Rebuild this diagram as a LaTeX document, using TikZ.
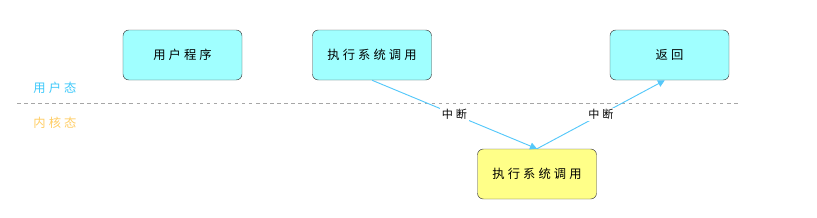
\documentclass[tikz,border=0pt]{standalone}
\usepackage{fontspec}
\setmainfont{Noto Sans CJK SC}[LetterSpace=25]
\definecolor{boxcyan}{RGB}{160, 255, 255}
\definecolor{boxyellow}{RGB}{255, 255, 136}
\definecolor{edgegray}{RGB}{68, 68, 68}
\definecolor{arrowblue}{RGB}{85, 200, 250}
\definecolor{userblue}{RGB}{60, 200, 250}
\definecolor{kernelorange}{RGB}{255, 205, 100}
\usetikzlibrary{arrows.meta, positioning}
\begin{document}
\begin{tikzpicture}[x=0.03cm, y=-0.03cm,
  sbox/.style={draw=edgegray, rounded corners=5pt, minimum width=3.57cm, minimum height=1.5cm, inner sep=0pt, font=\fontsize{10.5}{12}\selectfont},
  flow/.style={-{Triangle[length=6pt, width=6pt]}, arrowblue, thick},
  tag/.style={fill=white, text=black, inner sep=1.5pt, font=\fontsize{9.5}{11}\selectfont}
]
  \useasboundingbox (0,0) rectangle (817,217);
  \node[sbox, fill=boxcyan] (prog) at (182.5, 55) {用户程序};
  \node[sbox, fill=boxcyan] (call) at (372, 55) {执行系统调用};
  \node[sbox, fill=boxcyan] (ret) at (669.5, 55) {返回};
  \node[sbox, fill=boxyellow] (kcall) at (537, 174) {执行系统调用};
  % user / kernel boundary
  \coordinate (lineL) at (17, 103);
  \coordinate (lineR) at (740, 103);
  \draw[dashed, gray!70, thin] (lineL) -- (lineR);
  \node[font=\fontsize{10.5}{12}\selectfont, text=userblue] (user) at (55, 88) {用户态};
  \node[font=\fontsize{10.5}{12}\selectfont, text=kernelorange] (kernel) at (55, 123) {内核态};
  \draw[flow] (call.south) -- (kcall.north) node[tag, midway] {中断};
  \draw[flow] (kcall.north) -- ([xshift=-4]ret.south) node[tag, midway] {中断};
\end{tikzpicture}
\end{document}
